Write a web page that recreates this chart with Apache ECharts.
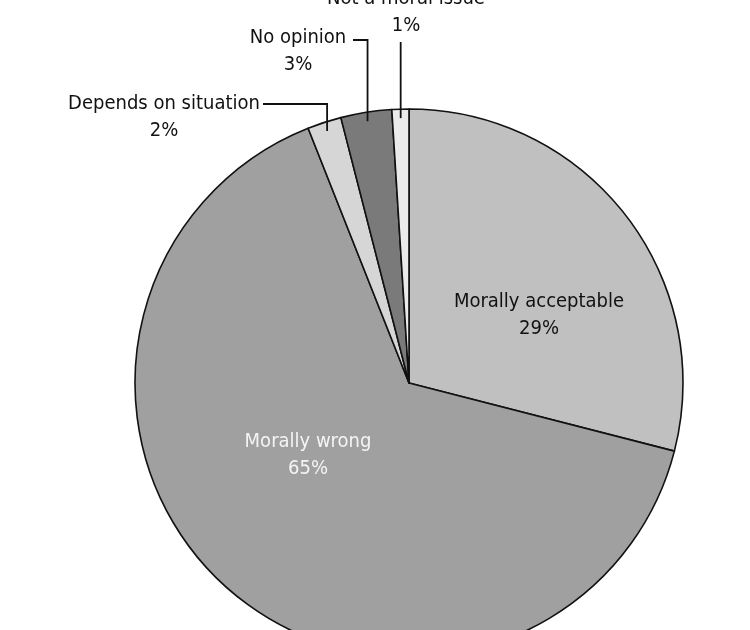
<!DOCTYPE html>
<html>
<head>
<meta charset="utf-8">
<script src="https://cdn.jsdelivr.net/npm/echarts@6/dist/echarts.min.js"></script>
<style>html,body{margin:0;padding:0;background:#fff;}#main{width:750px;height:630px;}</style>
</head>
<body>
<div id="main"></div>
<script>
const categories = ['Morally acceptable', 'Morally wrong', 'Depends on situation', 'No opinion', 'Not a moral issue'];
const values = [29, 65, 2, 3, 1];
const colors = ['#c0c0c0', '#a0a0a0', '#d6d6d6', '#7a7a7a', '#ebebeb'];

const CX = 409, CY = 383, R = 274;
const FONT = '"DejaVu Sans Condensed", "Liberation Sans Narrow", sans-serif';
// label placement (layout): block center x, block center y, line end x (for outside labels)
const labelPos = [
  { x: 539, y: 315 },
  { x: 308, y: 455 },
  { x: 164, y: 117.5, endX: 263, lineY: 104 },
  { x: 298, y: 51.5, endX: 353, lineY: 40 },
  { x: 406, y: 12, endX: null, lineY: 42 }
];

const total = values.reduce((a, b) => a + b, 0);
const midAngles = [];
let acc = 0;
values.forEach(v => { midAngles.push(90 - (acc + v / 2) / total * 360); acc += v; });

const baseLabel = {
  fontFamily: FONT,
  fontSize: 20,
  lineHeight: 27,
  align: 'center',
  color: '#111',
  formatter: p => p.name + '\n' + p.value + '%'
};

function layoutFn(params) {
  const i = params.dataIndex;
  const lp = labelPos[i];
  const res = { x: lp.x, y: lp.y, align: 'center', verticalAlign: 'middle' };
  if (i >= 2) {
    const a = midAngles[i] * Math.PI / 180;
    const sx = CX + (R - 9) * Math.cos(a);
    const sy = CY - (R - 9) * Math.sin(a);
    const ex = lp.endX == null ? sx : lp.endX;
    res.labelLinePoints = [[sx, sy], [sx, lp.lineY], [ex, lp.lineY]];
  }
  return res;
}

const chart = echarts.init(document.getElementById('main'));
chart.setOption({
  animation: false,
  series: [{
    type: 'pie',
    z: 2,
    center: [CX, CY],
    radius: [0, R],
    startAngle: 90,
    clockwise: true,
    avoidLabelOverlap: false,
    itemStyle: { borderColor: '#111', borderWidth: 1.6 },
    label: baseLabel,
    labelLine: { show: false },
    labelLayout: layoutFn,
    data: categories.map((name, i) => ({
      name: name,
      value: values[i],
      itemStyle: { color: colors[i] },
      label: i < 2 ? { show: true, position: 'inside', color: i === 1 ? '#f4f4f4' : '#111' } : { show: false }
    }))
  }, {
    type: 'pie',
    z: 3,
    silent: true,
    center: [CX, CY],
    radius: [0, R],
    startAngle: 90,
    clockwise: true,
    avoidLabelOverlap: false,
    itemStyle: { color: 'rgba(0,0,0,0)', borderWidth: 0 },
    label: baseLabel,
    labelLine: { show: true, lineStyle: { color: '#111', width: 1.8 } },
    labelLayout: layoutFn,
    data: categories.map((name, i) => ({
      name: name,
      value: values[i],
      label: { show: i >= 2, position: 'outside' },
      labelLine: { show: i >= 2 }
    }))
  }]
});
</script>
</body>
</html>
